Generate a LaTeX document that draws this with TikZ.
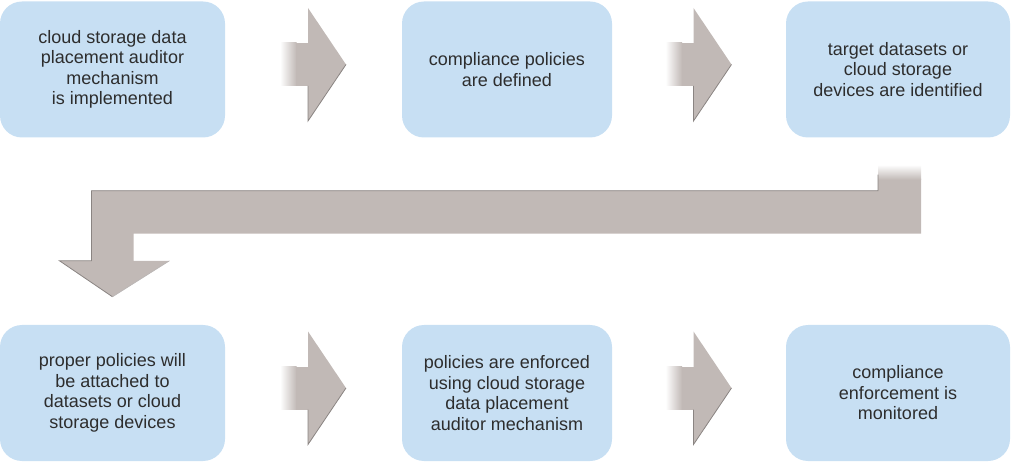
\documentclass[tikz,border=0pt]{standalone}
\usepackage{fontspec}
\setmainfont{Liberation Sans}
\usetikzlibrary{calc}
\definecolor{boxblue}{RGB}{199,223,243}
\definecolor{arrgray}{RGB}{193,185,182}
\definecolor{arrdark}{RGB}{138,132,130}
\definecolor{txt}{RGB}{45,45,45}
\newcommand\blockarr[2]{%
  \begin{scope}[shift={($(#1.east)!0.5!(#2.west)+(0,-5)$)}]
    \shade[left color=white,right color=arrgray] (-33.5,-21.5) rectangle (-17,21.5);
    \fill[arrfill] (-17.5,-21.5) rectangle (-5.5,21.5);
    \fill[arrfill] (-5.5,-56.5) -- (32.5,0) -- (-5.5,56.5) -- cycle;
    \draw[edgeline] (-5.5,21.5) -- (-5.5,56.5) -- (32.5,0);
  \end{scope}}
\begin{document}
\begin{tikzpicture}[x=1pt,y=-1pt,
  stepbox/.style={fill=boxblue, rounded corners=22pt, minimum height=136pt,
    inner sep=0pt, text=txt, align=center, font=\fontsize{18}{20.5}\selectfont},
  arrfill/.style={fill=arrgray},
  edgeline/.style={draw=arrdark, line width=0.8pt, line join=miter}]
\useasboundingbox (0,0) rectangle (1012,462);

\node[stepbox, minimum width=225pt] (b1) at (112.5,69.5) {cloud storage data\\placement auditor\\mechanism\\is implemented};
\node[stepbox, minimum width=210pt] (b2) at (507,69.5) {compliance policies\\are defined};
\node[stepbox, minimum width=224pt] (b3) at (898,69.5) {target datasets or\\cloud storage\\devices are identified};
\node[stepbox, minimum width=225pt] (b4) at (112.5,393) {proper policies will\\be attached to\\datasets or cloud\\storage devices};
\node[stepbox, minimum width=210pt] (b5) at (507,393) {policies are enforced\\using cloud storage\\data placement\\auditor mechanism};
\node[stepbox, minimum width=224pt] (b6) at (898,393) {compliance\\enforcement is\\monitored};

\blockarr{b1}{b2}
\blockarr{b2}{b3}
\blockarr{b4}{b5}
\blockarr{b5}{b6}

% bent arrow from b3 down-left to b4
\coordinate (st) at ($(b3.south)+(-20,27)$);
\coordinate (tip) at ($(b4.north)+(0,-28)$);
\coordinate (bt) at ($(st)+(0,26)$);
\coordinate (bb) at ($(st)+(0,69)$);
\coordinate (hl) at ($(tip)+(-21,-36)$);
\coordinate (hr) at ($(tip)+(21,-36)$);
\fill[arrfill] ($(st)+(0,14)$) -- (bt) -- (hl |- bt) -- (hl) -- ($(hl)+(-32,0)$) -- (tip)
  -- ($(hr)+(36,0)$) -- (hr) -- (hr |- bb) -- ($(bb)+(43,0)$) -- ($(st)+(43,14)$) -- cycle;
\shade[top color=white,bottom color=arrgray] (st) rectangle ($(st)+(43,15)$);
\draw[edgeline] ($(st)+(0,10)$) -- (bt) -- (hl |- bt) -- (hl) -- ($(hl)+(-32,0)$) -- (tip);
\draw[draw=arrdark!60, line width=0.6pt] (tip) -- ($(hr)+(36,0)$);
\end{tikzpicture}
\end{document}
